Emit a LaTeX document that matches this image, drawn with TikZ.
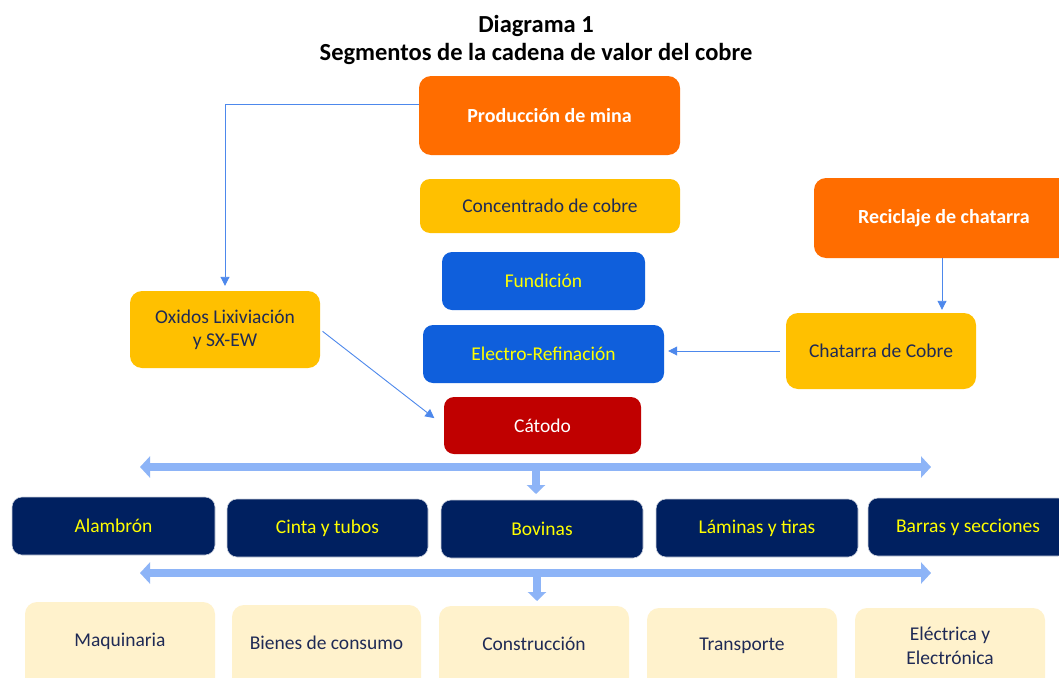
\documentclass[tikz,border=0pt]{standalone}
\usepackage{fontspec}
\setmainfont{Carlito}
\usetikzlibrary{arrows.meta}
\definecolor{orng}{HTML}{FF6D00}
\definecolor{ylw}{HTML}{FFC000}
\definecolor{blu}{HTML}{0F5FDC}
\definecolor{redd}{HTML}{C00000}
\definecolor{navy}{HTML}{002060}
\definecolor{cream}{HTML}{FFF2CC}
\definecolor{txtnavy}{HTML}{1F2A55}
\definecolor{ylwtxt}{HTML}{FFFF00}
\definecolor{conncol}{HTML}{4D88EC}
\definecolor{bigarr}{HTML}{8DB4F7}
\tikzset{
  box/.style={rounded corners=10pt, inner sep=0pt, align=center, font=\fontsize{19.5}{23}\selectfont},
  orbox/.style={box, fill=orng, text=white, font=\bfseries\fontsize{20}{24}\selectfont},
  ylbox/.style={box, fill=ylw, text=txtnavy},
  blbox/.style={box, fill=blu, text=ylwtxt},
  rdbox/.style={box, fill=redd, text=white},
  nvbox/.style={box, fill=navy, text=ylwtxt, draw=white!80!navy, line width=0.6pt},
  crbox/.style={rounded corners=12pt, fill=cream},
  crtext/.style={align=center, text=txtnavy, font=\fontsize{19.5}{24}\selectfont},
  conn/.style={draw=conncol, line width=0.9pt, -{Triangle[width=9pt,length=9pt]}},
  big/.style={draw=bigarr, line width=8pt, {Triangle[width=21pt,length=10pt]}-{Triangle[width=21pt,length=10pt]}},
  down/.style={draw=bigarr, line width=8pt, -{Triangle[width=18pt,length=9pt]}},
}
\begin{document}
\begin{tikzpicture}[x=1pt,y=-1pt]
\clip (0,0) rectangle (1059,677);
\fill[white] (0,0) rectangle (1059,677);
% title
\node (title) at (536,40) [align=center, font=\bfseries\fontsize{24.5}{28}\selectfont] {Diagrama 1\\Segmentos de la cadena de valor del cobre};
% top boxes
\node[orbox, minimum width=261pt, minimum height=79pt, rounded corners=12pt] (prod) at (549.5,115.5) {Producción de mina};
\node[ylbox, minimum width=260pt, minimum height=54pt] (conc) at (550,206) {Concentrado de cobre};
\node[blbox, minimum width=203pt, minimum height=58pt] (fund) at (543.5,281) {Fundición};
\node[blbox, minimum width=241pt, minimum height=58pt] (elec) at (543.5,354) {Electro-Refinación};
\node[rdbox, minimum width=197pt, minimum height=57pt] (cato) at (542.5,425.5) {Cátodo};
\node[orbox, minimum width=260pt, minimum height=80pt, rounded corners=12pt] (rec) at (944,218) {Reciclaje de chatarra};
\node[ylbox, minimum width=190pt, minimum height=76pt, rounded corners=12pt] (chat) at (881,351) {Chatarra de Cobre};
\node[ylbox, minimum width=190pt, minimum height=77pt, rounded corners=12pt] (oxi) at (225,329.5) {Oxidos Lixiviación\\y SX-EW};
% connectors
\draw[conn, shorten >=5pt] ([yshift=11pt]prod.west) -| (oxi.north);
\draw[conn, shorten <=3pt, shorten >=12pt] (oxi.east) -- (cato.west);
\draw[conn, shorten >=3pt] ([xshift=-2pt]rec.south) -- ([xshift=-2pt]rec.south |- chat.north);
\draw[conn, shorten <=6pt, shorten >=4pt] (chat.west) -- (chat.west -| elec.east);
% big arrows
\coordinate (b1l) at (140,467);
\coordinate (b1r) at (931,467);
\coordinate (b1m) at (536,467);
\coordinate (b1d) at (536,494);
\draw[big] (b1l) -- (b1r);
\draw[down] (b1m) -- (b1d);
% navy row
\node[nvbox, minimum width=203pt, minimum height=58pt] (alam) at (113.5,526) {Alambrón};
\node[nvbox, minimum width=201pt, minimum height=58pt] (cint) at (327.5,528) {Cinta y tubos};
\node[nvbox, minimum width=202pt, minimum height=58pt] (bovi) at (542,529) {Bovinas};
\node[nvbox, minimum width=202pt, minimum height=58pt] (lami) at (757,528) {Láminas y tiras};
\node[nvbox, minimum width=200pt, minimum height=58pt] (barr) at (968,527) {Barras y secciones};
% second arrows
\coordinate (b2l) at (140,573);
\coordinate (b2r) at (931,573);
\coordinate (b2m) at (537,573);
\coordinate (b2d) at (537,601);
\draw[big] (b2l) -- (b2r);
\draw[down] (b2m) -- (b2d);
% cream row
\fill[crbox] (25,602) rectangle (215,700);
\fill[crbox] (232,605) rectangle (421,700);
\fill[crbox] (439,606) rectangle (629,700);
\fill[crbox] (647,608) rectangle (837,700);
\fill[crbox] (855,608) rectangle (1045,700);
\node[crtext] (maq) at (120,641) {Maquinaria};
\node[crtext] (bien) at (326.5,643) {Bienes de consumo};
\node[crtext] (cons) at (534,644) {Construcción};
\node[crtext] (tran) at (742,646) {Transporte};
\node[crtext] (elct) at (950,646) {Eléctrica y\\Electrónica};
\end{tikzpicture}
\end{document}
